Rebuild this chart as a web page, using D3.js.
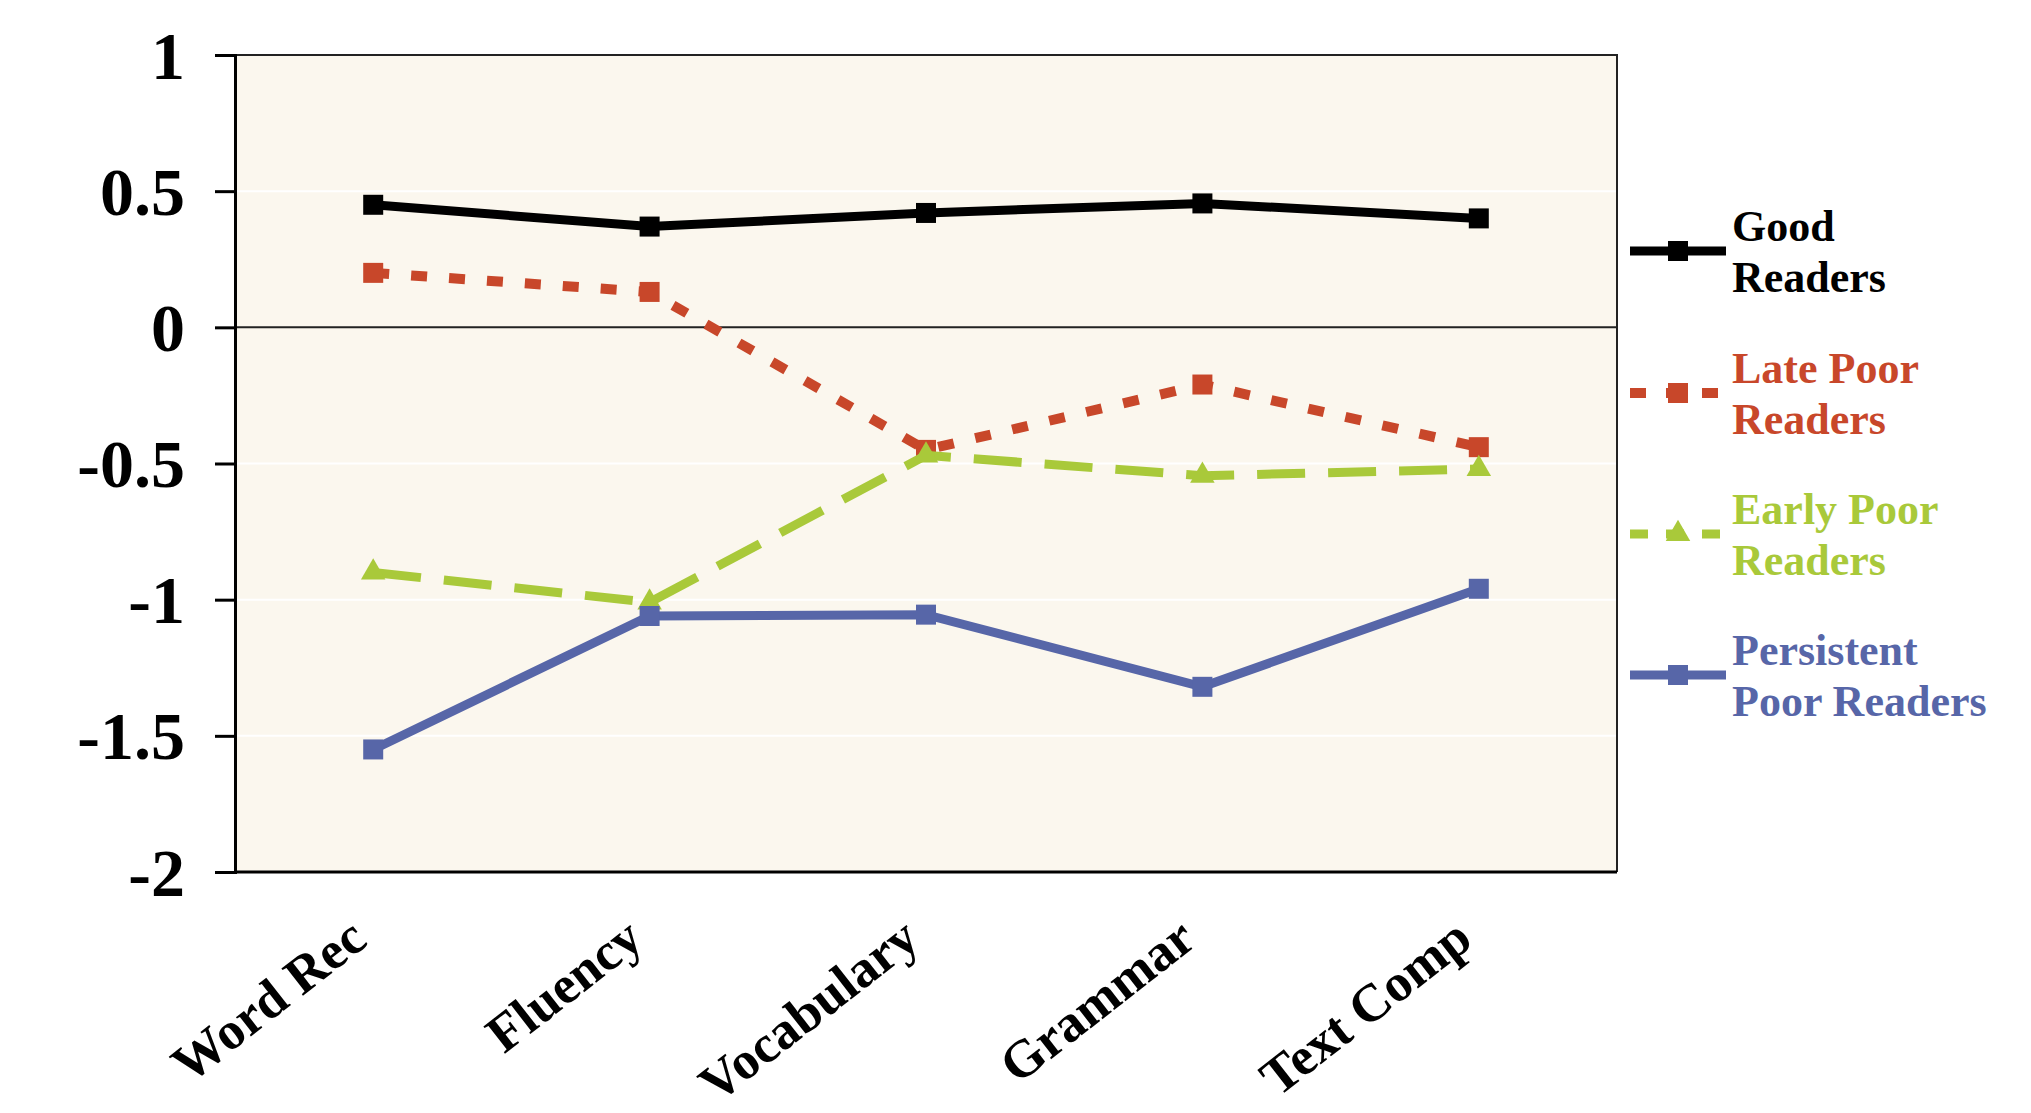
<!DOCTYPE html>
<html>
<head>
<meta charset="utf-8">
<script src="https://cdn.jsdelivr.net/npm/d3@7"></script>
<style>
  body { margin: 0; background: #fff; }
  text { font-family: "Liberation Serif", "Times New Roman", serif; font-weight: bold; }
</style>
</head>
<body>
<div id="wrapper"></div>
<script>
// data
const categories = ['Word Rec', 'Fluency', 'Vocabulary', 'Grammar', 'Text Comp']
const goodReaders = [0.45, 0.37, 0.42, 0.455, 0.40]
const latePoorReaders = [0.20, 0.13, -0.45, -0.21, -0.44]
const earlyPoorReaders = [-0.90, -1.01, -0.47, -0.545, -0.52]
const persistentPoorReaders = [-1.55, -1.06, -1.055, -1.32, -0.96]
const yTicks = [1, 0.5, 0, -0.5, -1, -1.5, -2]
const gridValues = [0.5, -0.5, -1, -1.5]

const series = [
  { name: ['Good', 'Readers'], values: goodReaders, color: '#000000', dash: null, width: 9, marker: 'square' },
  { name: ['Late Poor', 'Readers'], values: latePoorReaders, color: '#C8472A', dash: '16,22', width: 10, marker: 'square' },
  { name: ['Early Poor', 'Readers'], values: earlyPoorReaders, color: '#A9C93A', dash: '48,23', width: 9, marker: 'triangle' },
  { name: ['Persistent', 'Poor Readers'], values: persistentPoorReaders, color: '#5766A8', dash: null, width: 9, marker: 'square' }
]

async function drawChart() {
  // 1. dimensions
  let dimensions = {
    width: 2031,
    height: 1113,
    margin: { top: 55, right: 414, bottom: 241, left: 235 }
  }
  dimensions.boundedWidth = dimensions.width - dimensions.margin.left - dimensions.margin.right
  dimensions.boundedHeight = dimensions.height - dimensions.margin.top - dimensions.margin.bottom

  // 2. canvas
  const wrapper = d3.select('#wrapper')
    .append('svg')
      .attr('width', dimensions.width)
      .attr('height', dimensions.height)

  const bounds = wrapper.append('g')
    .attr('transform', `translate(${dimensions.margin.left},${dimensions.margin.top})`)

  // 3. scales
  const xScale = d3.scaleBand()
    .domain(categories)
    .range([0, dimensions.boundedWidth])
  const xCenter = d => xScale(d) + xScale.bandwidth() / 2

  const yScale = d3.scaleLinear()
    .domain([-2, 1])
    .range([dimensions.boundedHeight, 0])

  // plot area
  bounds.append('rect')
    .attr('width', dimensions.boundedWidth)
    .attr('height', dimensions.boundedHeight)
    .attr('fill', '#FBF7EE')

  bounds.selectAll('.grid')
    .data(gridValues)
    .enter().append('line')
      .attr('x1', 0)
      .attr('x2', dimensions.boundedWidth)
      .attr('y1', d => yScale(d))
      .attr('y2', d => yScale(d))
      .attr('stroke', '#ffffff')
      .attr('stroke-width', 2)

  // border top / right
  bounds.append('path')
    .attr('d', `M0,0H${dimensions.boundedWidth}V${dimensions.boundedHeight}`)
    .attr('fill', 'none')
    .attr('stroke', '#222')
    .attr('stroke-width', 2)

  // zero line
  bounds.append('line')
    .attr('x1', 0)
    .attr('x2', dimensions.boundedWidth)
    .attr('y1', yScale(0))
    .attr('y2', yScale(0))
    .attr('stroke', '#222')
    .attr('stroke-width', 2)

  // bottom line
  bounds.append('line')
    .attr('x1', 0)
    .attr('x2', dimensions.boundedWidth)
    .attr('y1', dimensions.boundedHeight)
    .attr('y2', dimensions.boundedHeight)
    .attr('stroke', '#000')
    .attr('stroke-width', 3)

  // 4. data
  const lineGenerator = d3.line()
    .x((d, i) => xCenter(categories[i]))
    .y(d => yScale(d))

  series.forEach(s => {
    bounds.append('path')
      .attr('d', lineGenerator(s.values))
      .attr('fill', 'none')
      .attr('stroke', s.color)
      .attr('stroke-width', s.width)
      .attr('stroke-dasharray', s.dash)

    const sym = d3.symbol()
      .type(s.marker == 'triangle' ? d3.symbolTriangle : d3.symbolSquare)
      .size(s.marker == 'triangle' ? 260 : 400)

    bounds.selectAll(null)
      .data(s.values)
      .enter().append('path')
        .attr('d', sym)
        .attr('transform', (d, i) => `translate(${xCenter(categories[i])},${yScale(d)})`)
        .attr('fill', s.color)
  })

  // 5. peripherals
  const yAxisGenerator = d3.axisLeft()
    .scale(yScale)
    .tickValues(yTicks)
    .tickFormat(d => d)
    .tickSize(20)
    .tickPadding(30)

  const yAxis = bounds.append('g')
    .call(yAxisGenerator)
  yAxis.select('.domain').attr('stroke', '#000').attr('stroke-width', 3)
  yAxis.selectAll('.tick line').attr('stroke', '#000').attr('stroke-width', 3)
  yAxis.selectAll('text')
    .attr('fill', '#000')
    .style('font-size', '68px')
    .attr('dy', '0.34em')

  const xAxisGenerator = d3.axisBottom()
    .scale(xScale)
    .tickSize(0)

  const xAxis = bounds.append('g')
    .attr('transform', `translate(0,${dimensions.boundedHeight})`)
    .call(xAxisGenerator)
  xAxis.select('.domain').remove()
  xAxis.selectAll('text')
    .attr('fill', '#000')
    .style('font-size', '53px')
    .attr('text-anchor', 'end')
    .attr('y', 0)
    .attr('dy', 0)
    .attr('transform', 'translate(-4,72) rotate(-38)')

  // legend
  const legendX = 1630
  const legendY = [251, 393, 534, 675]
  const legend = wrapper.append('g')

  series.forEach((s, i) => {
    const g = legend.append('g')
      .attr('transform', `translate(${legendX},${legendY[i]})`)
    g.append('line')
      .attr('x1', 0)
      .attr('x2', 96)
      .attr('stroke', s.color)
      .attr('stroke-width', s.width)
      .attr('stroke-dasharray', s.dash == null ? null : (s.marker == 'triangle' ? '18,18' : '16,20'))
    g.append('path')
      .attr('d', d3.symbol()
        .type(s.marker == 'triangle' ? d3.symbolTriangle : d3.symbolSquare)
        .size(s.marker == 'triangle' ? 260 : 400))
      .attr('transform', 'translate(48,0)')
      .attr('fill', s.color)
    g.selectAll('text')
      .data(s.name)
      .enter().append('text')
        .attr('x', 102)
        .attr('y', (d, j) => j == 0 ? -10 : 41)
        .attr('fill', s.color)
        .style('font-size', '44px')
        .text(d => d)
  })
}

drawChart()
</script>
</body>
</html>
